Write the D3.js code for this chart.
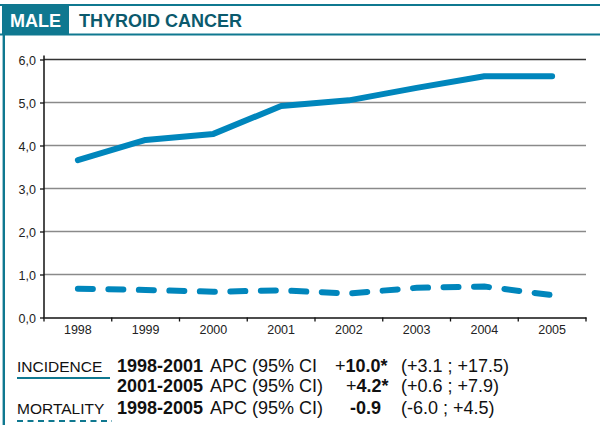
<!DOCTYPE html>
<html>
<head>
<meta charset="utf-8">
<script src="https://cdn.jsdelivr.net/npm/d3@7"></script>
<style>
  body { margin: 0; background: #fff; }
  svg { display: block; font-family: "Liberation Sans", Arial, sans-serif; }
</style>
</head>
<body>
<div id="chart"></div>
<script>
// Data
var years = ["1998", "1999", "2000", "2001", "2002", "2003", "2004", "2005"];
var incidence = [3.66, 4.13, 4.27, 4.92, 5.05, 5.34, 5.61, 5.61];
var mortality = [0.67, 0.64, 0.60, 0.63, 0.56, 0.69, 0.72, 0.52];
var yTicks = [0, 1, 2, 3, 4, 5, 6];
var yTickLabels = ["0,0", "1,0", "2,0", "3,0", "4,0", "5,0", "6,0"];

var teal = "#0f7890";
var blue = "#0086bc";

var svg = d3.select("#chart").append("svg")
    .attr("width", 600)
    .attr("height", 425);

// Frame and header
svg.append("rect").attr("x", 2).attr("y", 5).attr("width", 67).attr("height", 29).attr("fill", teal);
svg.append("line").attr("x1", 0).attr("x2", 600).attr("y1", 5).attr("y2", 5)
    .attr("stroke", teal).attr("stroke-width", 2.2);
svg.append("line").attr("x1", 0).attr("x2", 600).attr("y1", 34.5).attr("y2", 34.5)
    .attr("stroke", teal).attr("stroke-width", 2.2);
svg.append("line").attr("x1", 3.8).attr("x2", 3.8).attr("y1", 4).attr("y2", 425)
    .attr("stroke", teal).attr("stroke-width", 2.4);

svg.append("text").attr("x", 10).attr("y", 27)
    .attr("font-size", 18).attr("font-weight", "bold").attr("fill", "#fff")
    .text("MALE");
svg.append("text").attr("x", 79).attr("y", 27)
    .attr("font-size", 18).attr("font-weight", "bold").attr("fill", "#0b5a6d")
    .text("THYROID CANCER");

// Scales
var x = d3.scaleBand().domain(years).range([44, 586]).padding(0);
var y = d3.scaleLinear().domain([0, 6]).range([317.5, 59.5]);
var cx = function(d, i) { return x(years[i]) + x.bandwidth() / 2; };

// Grid lines
svg.append("g").selectAll("line").data(yTicks.slice(1)).enter().append("line")
    .attr("x1", 44).attr("x2", 586)
    .attr("y1", function(d) { return y(d); })
    .attr("y2", function(d) { return y(d); })
    .attr("stroke", function(d) { return d == 6 ? "#333" : "#8a8a8a"; })
    .attr("stroke-width", 1.5);

// Y axis
var yAxis = svg.append("g")
    .attr("transform", "translate(44,0)")
    .call(d3.axisLeft(y).tickValues(yTicks)
        .tickFormat(function(d, i) { return yTickLabels[i]; })
        .tickSize(4).tickSizeOuter(0));
yAxis.select(".domain").attr("stroke", "#111").attr("stroke-width", 1.5)
    .attr("d", "M0," + (y(0) + 1) + "V" + (y(6) - 4));
yAxis.selectAll(".tick line").attr("stroke", "#111").attr("stroke-width", 1.3);
yAxis.selectAll(".tick text").attr("x", -8).attr("dy", "0.36em")
    .attr("font-size", 12.5).attr("fill", "#222")
    .attr("font-family", "Liberation Sans, Arial, sans-serif");

// X axis
var xAxis = svg.append("g")
    .attr("transform", "translate(0," + y(0) + ")")
    .call(d3.axisBottom(x).tickSize(0).tickSizeOuter(0));
xAxis.select(".domain").attr("stroke", "#111").attr("stroke-width", 1.5);
xAxis.selectAll(".tick text").attr("y", 8).attr("dy", "0.71em")
    .attr("font-size", 12.5).attr("fill", "#222")
    .attr("font-family", "Liberation Sans, Arial, sans-serif");
xAxis.selectAll(".bound").data(years.concat(["end"])).enter().append("line")
    .attr("class", "bound")
    .attr("x1", function(d, i) { return 44 + i * x.bandwidth(); })
    .attr("x2", function(d, i) { return 44 + i * x.bandwidth(); })
    .attr("y1", 0).attr("y2", 4)
    .attr("stroke", "#111").attr("stroke-width", 1.3);

// Lines
var line = d3.line()
    .x(function(d, i) { return cx(d, i); })
    .y(function(d) { return y(d); });

svg.append("path").datum(incidence)
    .attr("d", line)
    .attr("fill", "none")
    .attr("stroke", blue)
    .attr("stroke-width", 6)
    .attr("stroke-linecap", "round")
    .attr("stroke-linejoin", "round");

svg.append("path").datum(mortality)
    .attr("d", line)
    .attr("fill", "none")
    .attr("stroke", blue)
    .attr("stroke-width", 6)
    .attr("stroke-linecap", "round")
    .attr("stroke-dasharray", "15,15.5");

// Legend / stats text
var rows = [
    { y: 371.5, label: "INCIDENCE", period: "1998-2001", apc: "APC (95% CI", sign: "+", val: "10.0*", valX: 335, ci: "(+3.1 ; +17.5)" },
    { y: 391.5, label: "", period: "2001-2005", apc: "APC (95% CI)", sign: "+", val: "4.2*", valX: 346, ci: "(+0.6 ; +7.9)" },
    { y: 414, label: "MORTALITY", period: "1998-2005", apc: "APC (95% CI)", sign: "", val: "-0.9", valX: 350, ci: "(-6.0 ; +4.5)" }
];

var leg = svg.append("g").attr("fill", "#111");
rows.forEach(function(r) {
    if (r.label) {
        leg.append("text").attr("x", 17).attr("y", r.y).attr("font-size", 15.5).text(r.label);
    }
    leg.append("text").attr("x", 117).attr("y", r.y).attr("font-size", 18).attr("font-weight", "bold").text(r.period);
    leg.append("text").attr("x", 210).attr("y", r.y).attr("font-size", 18).text(r.apc);
    var v = leg.append("text").attr("x", r.valX).attr("y", r.y).attr("font-size", 18);
    if (r.sign) v.append("tspan").text(r.sign);
    v.append("tspan").attr("font-weight", "bold").text(r.val);
    leg.append("text").attr("x", 401).attr("y", r.y).attr("font-size", 18).text(r.ci);
});

svg.append("line").attr("x1", 17).attr("x2", 110).attr("y1", 378).attr("y2", 378)
    .attr("stroke", teal).attr("stroke-width", 2);
svg.append("line").attr("x1", 17).attr("x2", 112).attr("y1", 421).attr("y2", 421)
    .attr("stroke", teal).attr("stroke-width", 2).attr("stroke-dasharray", "6,4.5");
</script>
</body>
</html>
